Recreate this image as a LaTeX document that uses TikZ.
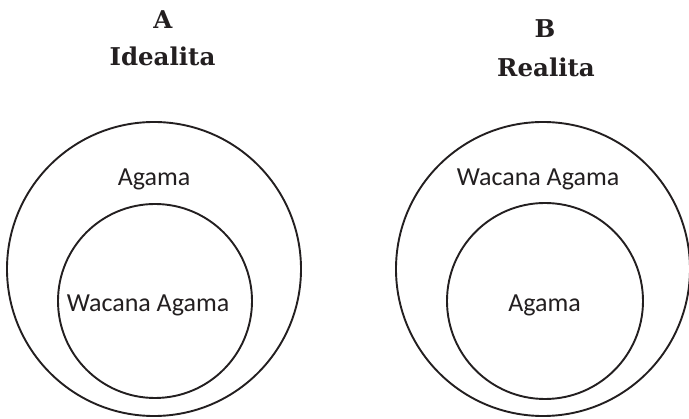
\documentclass[tikz,border=0pt]{standalone}
\usepackage{fontspec}
\setmainfont{Carlito}
\newfontfamily\titlefont{DejaVu Serif}
\definecolor{ink}{HTML}{231F20}
\begin{document}
\begin{tikzpicture}[x=1pt,y=-1pt,
  ring/.style={circle,draw=ink,line width=1.9pt,inner sep=0pt,minimum size=#1},
  lbl/.style={anchor=base,inner sep=0pt,text=ink,font=\fontsize{26}{30}\selectfont},
  ttl/.style={anchor=base,inner sep=0pt,text=ink,font=\titlefont\bfseries\fontsize{24.5}{28}\selectfont}]
\useasboundingbox (0,0) rectangle (689,419);
% titles
\node[ttl] (ta) at (163,29) {A};
\node[ttl] (tid) at (162.5,66) {Idealita};
\node[ttl] (tb) at (545,38) {B};
\node[ttl] (tre) at (546,77) {Realita};
% circles
\node[ring=294pt] (lo) at (154,269) {};
\node[ring=194pt] (li) at (155,301) {};
\node[ring=294pt] (ro) at (543,269) {};
\node[ring=196pt] (ri) at (545,301) {};
% labels
\node[lbl] (la) at (154,186) {Agama};
\node[lbl] (lw) at (148,312) {Wacana Agama};
\node[lbl] (rw) at (538,186) {Wacana Agama};
\node[lbl] (ra) at (544.5,312) {Agama};
\end{tikzpicture}
\end{document}
